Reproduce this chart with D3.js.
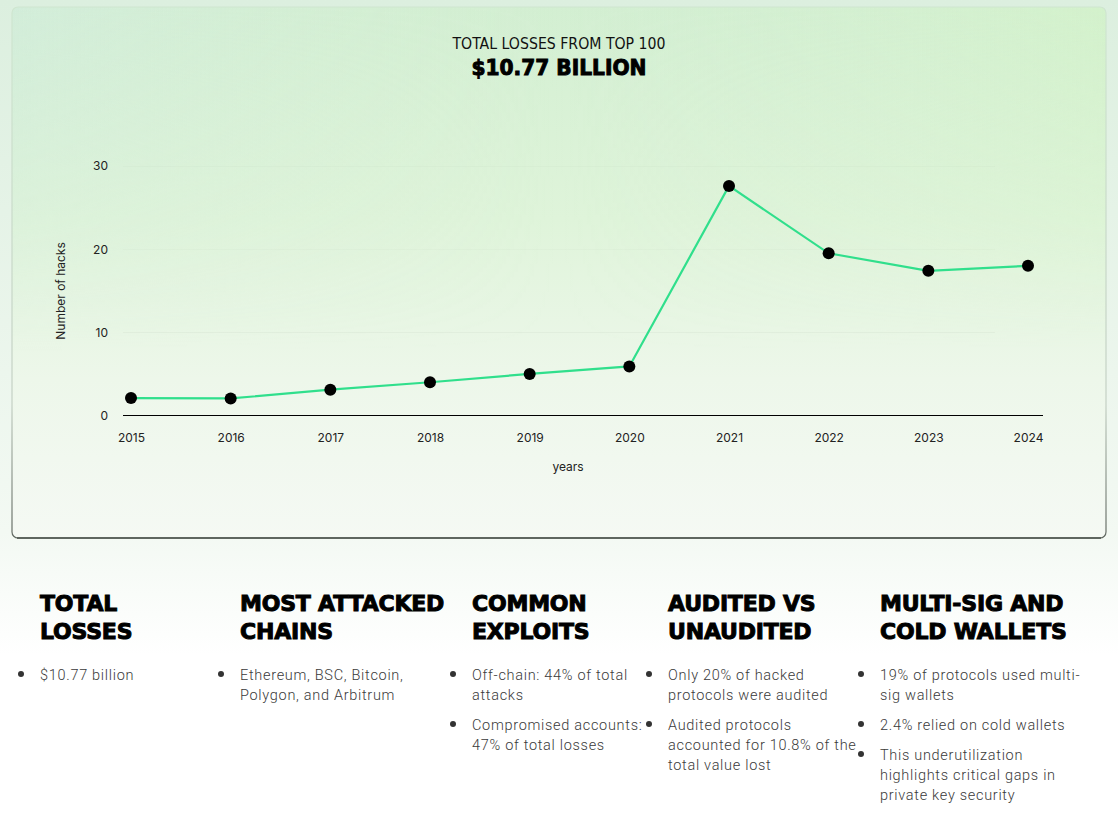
<!DOCTYPE html>
<html>
<head>
<meta charset="utf-8">
<script src="https://cdn.jsdelivr.net/npm/d3@7"></script>
<style>
  html, body { margin: 0; padding: 0; background: #fff; }
  svg { display: block; }
</style>
</head>
<body>
<div id="chart"></div>
<script>
// years on the x axis and number of hacks per year
var years = ['2015', '2016', '2017', '2018', '2019', '2020', '2021', '2022', '2023', '2024'];
var hacks = [2.1, 2.05, 3.1, 4, 5, 5.9, 27.6, 19.5, 17.4, 18];
var yTicks = [0, 10, 20, 30];

var subTitle = 'TOTAL LOSSES FROM TOP 100';
var bigTitle = '$10.77 BILLION';

// the five summary columns under the chart
var headings = [
	['TOTAL', 'LOSSES'],
	['MOST ATTACKED', 'CHAINS'],
	['COMMON', 'EXPLOITS'],
	['AUDITED VS', 'UNAUDITED'],
	['MULTI-SIG AND', 'COLD WALLETS']
];
var bullets = [
	[['$10.77 billion']],
	[['Ethereum, BSC, Bitcoin,', 'Polygon, and Arbitrum']],
	[['Off-chain: 44% of total', 'attacks'], ['Compromised accounts:', '47% of total losses']],
	[['Only 20% of hacked', 'protocols were audited'], ['Audited protocols', 'accounted for 10.8% of the', 'total value lost']],
	[['19% of protocols used multi-', 'sig wallets'], ['2.4% relied on cold wallets'], ['This underutilization', 'highlights critical gaps in', 'private key security']]
];

var W = 1118, H = 819;
var colX = [40, 240, 472, 668, 880];

var svg = d3.select('#chart').append('svg')
	.attr('width', W)
	.attr('height', H);

var defs = svg.append('defs');

// page background: pale green fading to white
var pageGrad = defs.append('linearGradient').attr('id', 'page-grad')
	.attr('x1', 0).attr('y1', 0).attr('x2', 0).attr('y2', 1);
pageGrad.append('stop').attr('offset', '0%').attr('stop-color', '#dcefdf');
pageGrad.append('stop').attr('offset', '65%').attr('stop-color', '#f3f9f3');
pageGrad.append('stop').attr('offset', '80%').attr('stop-color', '#ffffff');
pageGrad.append('stop').attr('offset', '100%').attr('stop-color', '#ffffff');

// card: green on top, almost white at the bottom
var cardGrad = defs.append('linearGradient').attr('id', 'card-grad')
	.attr('x1', 0).attr('y1', 0).attr('x2', 0).attr('y2', 1);
cardGrad.append('stop').attr('offset', '0%').attr('stop-color', '#d3efd2');
cardGrad.append('stop').attr('offset', '40%').attr('stop-color', '#dff4da');
cardGrad.append('stop').attr('offset', '70%').attr('stop-color', '#edf7ea');
cardGrad.append('stop').attr('offset', '100%').attr('stop-color', '#f5f9f4');

// left side a bit more mint/blue, right side more yellow-green
var tintGrad = defs.append('linearGradient').attr('id', 'tint-grad')
	.attr('x1', 0).attr('y1', 0).attr('x2', 1).attr('y2', 0);
tintGrad.append('stop').attr('offset', '0%').attr('stop-color', '#d2ebe0').attr('stop-opacity', 0.55);
tintGrad.append('stop').attr('offset', '50%').attr('stop-color', '#d8f0d8').attr('stop-opacity', 0);
tintGrad.append('stop').attr('offset', '100%').attr('stop-color', '#d4f4c6').attr('stop-opacity', 0.5);

var tintFade = defs.append('linearGradient').attr('id', 'tint-fade')
	.attr('x1', 0).attr('y1', 0).attr('x2', 0).attr('y2', 1);
tintFade.append('stop').attr('offset', '0%').attr('stop-color', '#fff');
tintFade.append('stop').attr('offset', '65%').attr('stop-color', '#000');
defs.append('mask').attr('id', 'tint-mask')
	.append('rect').attr('x', 0).attr('y', 0).attr('width', W).attr('height', 540)
	.attr('fill', 'url(#tint-fade)');

// border that is almost invisible on top and dark at the bottom
var borderGrad = defs.append('linearGradient').attr('id', 'border-grad')
	.attr('gradientUnits', 'userSpaceOnUse')
	.attr('x1', 0).attr('y1', 0).attr('x2', 0).attr('y2', 540);
borderGrad.append('stop').attr('offset', '0%').attr('stop-color', '#cfe6d0');
borderGrad.append('stop').attr('offset', '75%').attr('stop-color', '#c4d0c4');
borderGrad.append('stop').attr('offset', '100%').attr('stop-color', '#5f665f');

svg.append('rect')
	.attr('width', W).attr('height', H)
	.attr('fill', 'url(#page-grad)');

var card = {x: 12, y: 7, w: 1094, h: 531};
svg.append('rect')
	.attr('x', card.x).attr('y', card.y)
	.attr('width', card.w).attr('height', card.h)
	.attr('rx', 6)
	.attr('fill', 'url(#card-grad)');
svg.append('rect')
	.attr('x', card.x).attr('y', card.y)
	.attr('width', card.w).attr('height', card.h)
	.attr('rx', 6)
	.attr('fill', 'url(#tint-grad)')
	.attr('mask', 'url(#tint-mask)');
svg.append('rect')
	.attr('x', card.x).attr('y', card.y)
	.attr('width', card.w).attr('height', card.h)
	.attr('rx', 6)
	.attr('fill', 'none')
	.attr('stroke', 'url(#border-grad)')
	.attr('stroke-width', 1.2);
svg.append('line')
	.attr('x1', card.x + 5).attr('x2', card.x + card.w - 5)
	.attr('y1', card.y + card.h).attr('y2', card.y + card.h)
	.attr('stroke', '#5f665f')
	.attr('stroke-width', 2);

// titles
svg.append('text')
	.attr('x', 559).attr('y', 49)
	.attr('text-anchor', 'middle')
	.attr('textLength', 213)
	.attr('lengthAdjust', 'spacingAndGlyphs')
	.style('font-family', '"DejaVu Sans Condensed", "Liberation Sans Narrow", sans-serif')
	.style('font-size', '15px')
	.style('fill', '#111')
	.text(subTitle);

svg.append('text')
	.attr('x', 559).attr('y', 75)
	.attr('text-anchor', 'middle')
	.attr('textLength', 175)
	.attr('lengthAdjust', 'spacingAndGlyphs')
	.style('font-family', '"DejaVu Sans", sans-serif')
	.style('font-weight', 'bold')
	.style('font-size', '22px')
	.style('fill', '#000')
	.style('stroke', '#000')
	.style('stroke-width', 1)
	.text(bigTitle);

// chart scales
var x = d3.scalePoint()
	.domain(years)
	.range([131, 1028]);

var y = d3.scaleLinear()
	.domain([0, 30])
	.range([415.5, 166]);

var main = svg.append('g').attr('class', 'main');

// faint gridlines
main.append('g')
	.selectAll('line')
	.data(yTicks.slice(1))
	.enter().append('line')
	.attr('x1', 123).attr('x2', 995)
	.attr('y1', function (d) { return Math.round(y(d)) + 0.5; })
	.attr('y2', function (d) { return Math.round(y(d)) + 0.5; })
	.attr('stroke', '#000')
	.attr('stroke-opacity', function (d) { return d === 10 ? 0.03 : 0.015; });

var xAxis = d3.axisBottom(x).tickSize(0).tickPadding(18);
var gx = main.append('g')
	.attr('transform', 'translate(0,' + y(0) + ')')
	.call(xAxis);
gx.select('.domain').remove();
gx.selectAll('text')
	.style('font-family', 'Inter, Roboto, sans-serif')
	.style('font-size', '12px')
	.style('fill', '#222');

// baseline runs a bit past the outer points
main.append('line')
	.attr('x1', 123).attr('x2', 1043)
	.attr('y1', y(0)).attr('y2', y(0))
	.attr('stroke', '#000')
	.attr('stroke-width', 1);

var yAxis = d3.axisLeft(y).tickValues(yTicks).tickSize(0).tickPadding(0);
var gy = main.append('g')
	.attr('transform', 'translate(108,0)')
	.call(yAxis);
gy.select('.domain').remove();
gy.selectAll('text')
	.style('font-family', 'Inter, Roboto, sans-serif')
	.style('font-size', '12px')
	.style('fill', '#222');

// axis titles
svg.append('text')
	.attr('text-anchor', 'middle')
	.attr('transform', 'translate(65,291)rotate(-90)')
	.style('font-family', 'Inter, Roboto, sans-serif')
	.style('font-size', '12px')
	.style('fill', '#222')
	.text('Number of hacks');

svg.append('text')
	.attr('text-anchor', 'middle')
	.attr('x', 568).attr('y', 471)
	.style('font-family', 'Inter, Roboto, sans-serif')
	.style('font-size', '12px')
	.style('fill', '#222')
	.text('years');

// line + dots
var valueline = d3.line()
	.x(function (d, i) { return x(years[i]); })
	.y(function (d) { return y(d); });

main.append('path')
	.datum(hacks)
	.attr('d', valueline)
	.attr('fill', 'none')
	.attr('stroke', '#30df8c')
	.attr('stroke-width', 2.2);

main.append('g')
	.selectAll('circle')
	.data(hacks)
	.enter().append('circle')
	.attr('cx', function (d, i) { return x(years[i]); })
	.attr('cy', function (d) { return y(d); })
	.attr('r', 6)
	.attr('fill', '#000');

// summary columns
var cols = svg.append('g').attr('class', 'summary');

headings.forEach(function (lines, c) {
	lines.forEach(function (line, l) {
		cols.append('text')
			.attr('x', colX[c])
			.attr('y', 611 + l * 28)
			.style('font-family', '"DejaVu Sans", sans-serif')
			.style('font-weight', 'bold')
			.style('font-size', '22px')
			.style('letter-spacing', '-0.2px')
			.style('fill', '#000')
			.style('stroke', '#000')
			.style('stroke-width', 1)
			.text(line);
	});

	var yy = 680;
	bullets[c].forEach(function (item) {
		cols.append('circle')
			.attr('cx', colX[c] - 19)
			.attr('cy', yy - 6)
			.attr('r', 3)
			.attr('fill', '#333');
		item.forEach(function (line, l) {
			cols.append('text')
				.attr('x', colX[c])
				.attr('y', yy + l * 20)
				.style('font-family', 'Roboto, sans-serif')
				.style('font-weight', 300)
				.style('font-size', '14.5px')
				.style('letter-spacing', '0.7px')
				.style('fill', '#3a3a3a')
				.text(line);
		});
		yy += item.length * 20 + 10;
	});
});
</script>
</body>
</html>
